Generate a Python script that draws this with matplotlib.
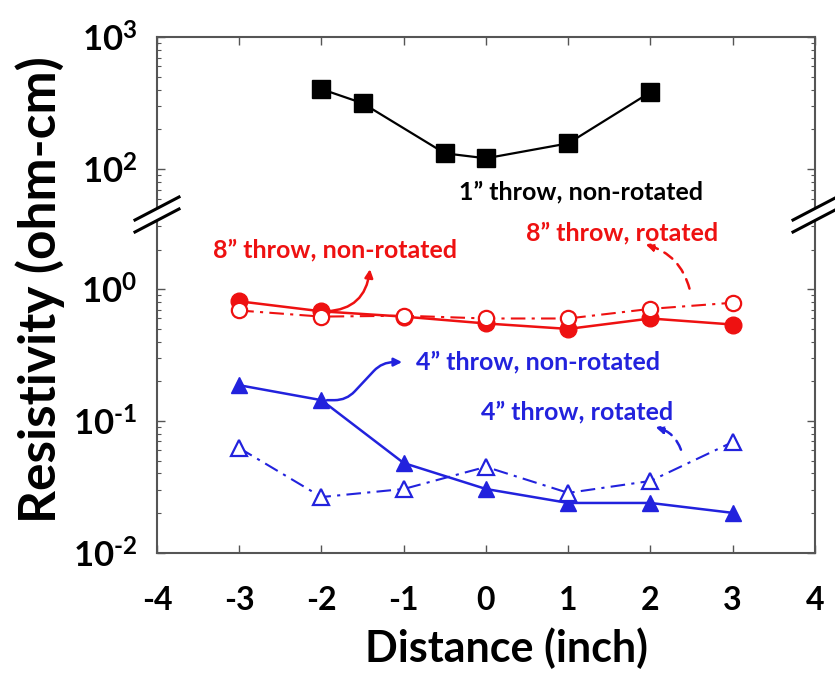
import numpy as np
import matplotlib
matplotlib.use("Agg")
import matplotlib.pyplot as plt
from matplotlib.ticker import FuncFormatter, NullFormatter, LogLocator
from matplotlib.patches import Polygon
from matplotlib.lines import Line2D

plt.rcParams['font.family'] = ['Lato', 'DejaVu Sans']
plt.rcParams['font.weight'] = 'bold'
plt.rcParams['axes.unicode_minus'] = False
plt.rcParams['mathtext.fontset'] = 'custom'
plt.rcParams['mathtext.rm'] = 'Lato:bold'
plt.rcParams['mathtext.bf'] = 'Lato:bold'

#
# Data
#
x_1in = [-2, -1.5, -0.5, 0, 1, 2]
r_1in = [404, 316, 132, 121, 157, 383]

x_pos = [-3, -2, -1, 0, 1, 2, 3]
r_8in_non = [0.81, 0.68, 0.62, 0.55, 0.50, 0.60, 0.54]
r_8in_rot = [0.69, 0.62, 0.63, 0.60, 0.60, 0.71, 0.79]
r_4in_non = [0.187, 0.144, 0.048, 0.0305, 0.0239, 0.0239, 0.0201]
r_4in_rot = [0.0624, 0.0265, 0.0305, 0.0449, 0.0285, 0.0351, 0.0693]

x_ticks = [-4, -3, -2, -1, 0, 1, 2, 3, 4]

RED = '#ee1111'
BLUE = '#2222dd'
GRAY = '#555555'
W, H = 835, 675


def fpix(px, py):
    # pixel position -> figure fraction
    return px / W, 1 - py / H


def ylab(v, p):
    e = int(round(np.log10(v)))
    s = str(e).replace('-', '\u2010')
    return r'$\mathbf{10^{%s}}$' % s


fig = plt.figure(figsize=(8.35, 6.75), dpi=100)
ax_top = fig.add_axes([0.188, 0.684, 0.788, 0.261])
ax_bot = fig.add_axes([0.188, 0.181, 0.788, 0.503])

for ax in (ax_top, ax_bot):
    ax.set_yscale('log')
    ax.set_xlim(-4, 4)
    ax.set_xticks(x_ticks)
    ax.yaxis.set_major_formatter(FuncFormatter(ylab))
    ax.yaxis.set_minor_locator(LogLocator(base=10, subs=np.arange(2, 10)))
    ax.yaxis.set_minor_formatter(NullFormatter())
    ax.tick_params(axis='both', which='both', direction='in', top=True,
                   right=True, color=GRAY)
    ax.tick_params(which='major', length=6, width=1)
    ax.tick_params(which='minor', length=3, width=0.8)
    ax.tick_params(axis='y', pad=14, labelsize=25)
    ax.tick_params(axis='x', pad=24, labelsize=23)
    for s in ax.spines.values():
        s.set_color(GRAY)
        s.set_linewidth(1.5)

ax_top.set_ylim(46.4, 1000)
ax_bot.set_ylim(0.01, 3.77)
ax_top.spines['bottom'].set_visible(False)
ax_bot.spines['top'].set_visible(False)
ax_top.tick_params(axis='x', bottom=False, labelbottom=False)
ax_bot.tick_params(axis='x', top=False)

# dash-dot pattern
dd = (7, 3, 1.5, 3)

ax_top.plot(x_1in, r_1in, color='black', marker='s', ms=13, lw=1.6)

ax_bot.plot(x_pos, r_8in_non, color=RED, marker='o', ms=12, lw=1.8)
ax_bot.plot(x_pos, r_8in_rot, color=RED, marker='o', ms=11, lw=1.5,
            mfc='white', mew=1.6, dashes=dd)
ax_bot.plot(x_pos, r_4in_non, color=BLUE, marker='^', ms=12, lw=1.8)
ax_bot.plot(x_pos, r_4in_rot, color=BLUE, marker='^', ms=11, lw=1.5,
            mfc='white', mew=1.6, dashes=dd)

# labels
tkw = dict(fontsize=18, fontweight='bold', ha='center', va='center')
fig.text(*fpix(581, 192), '1\u201d throw, non-rotated', color='black', **tkw)
fig.text(*fpix(335, 250), '8\u201d throw, non-rotated', color=RED, **tkw)
fig.text(*fpix(622, 233), '8\u201d throw, rotated', color=RED, **tkw)
fig.text(*fpix(538, 362), '4\u201d throw, non-rotated', color=BLUE, **tkw)
fig.text(*fpix(577, 412), '4\u201d throw, rotated', color=BLUE, **tkw)

# arrows
akw = dict(arrowstyle='-|>', mutation_scale=12, shrinkA=4, shrinkB=0, lw=1.8)
ax_bot.annotate('', xy=(-1.41, 1.42), xytext=(x_pos[1], r_8in_non[1]),
                arrowprops=dict(color=RED, connectionstyle='arc3,rad=0.45', **akw))
ax_bot.annotate('', xy=(1.94, 2.19), xytext=(2.49, 0.92),
                arrowprops=dict(color=RED, ls=(0, (4, 3)),
                                connectionstyle='arc3,rad=0.3', **akw))
ax_bot.annotate('', xy=(-1.02, 0.28), xytext=(x_pos[1], r_4in_non[1]),
                arrowprops=dict(color=BLUE, connectionstyle='arc,angleA=0,armA=25,angleB=180,armB=20,rad=12', **akw))
ax_bot.annotate('', xy=(2.06, 0.090), xytext=(2.39, 0.0552),
                arrowprops=dict(color=BLUE, ls=(0, (4, 3)),
                                connectionstyle='arc3,rad=0.3', **akw))

# axis break marks
for cx in (157, 815):
    p1 = [fpix(cx - 22, 220), fpix(cx + 22, 197)]
    p2 = [fpix(cx - 22, 232), fpix(cx + 22, 209)]
    fig.patches.append(Polygon(p1 + p2[::-1], closed=True, fc='white', ec='none',
                               transform=fig.transFigure, zorder=5))
    for p in (p1, p2):
        fig.lines.append(Line2D([p[0][0], p[1][0]], [p[0][1], p[1][1]], color='black',
                                lw=2.2, transform=fig.transFigure, zorder=6))

fig.text(*fpix(40, 290), 'Resistivity (ohm-cm)', rotation=90, fontsize=37,
         fontweight='bold', ha='center', va='center')
fig.text(*fpix(507, 648), 'Distance (inch)', fontsize=31, fontweight='bold',
         ha='center', va='center')

fig.savefig('out.png', dpi=100)
